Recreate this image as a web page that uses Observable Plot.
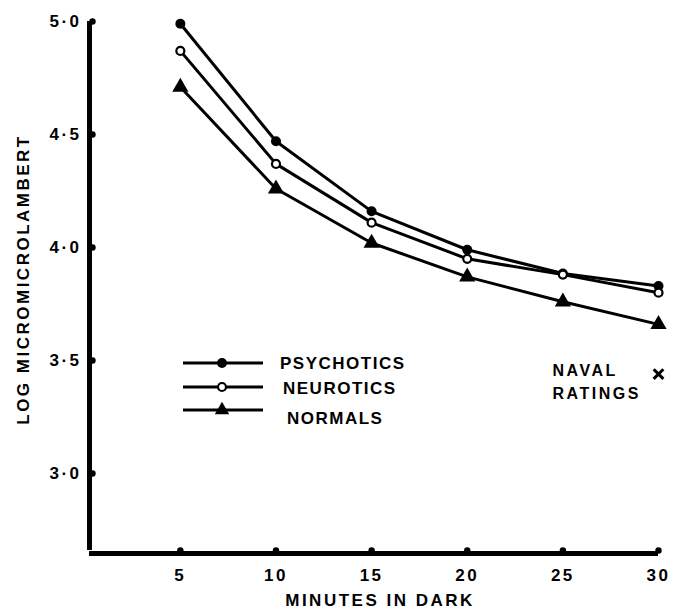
<!DOCTYPE html>
<html><head><meta charset="utf-8">
<script src="https://cdn.jsdelivr.net/npm/d3@7"></script>
<script src="https://cdn.jsdelivr.net/npm/@observablehq/plot@0.6"></script>
<style>
body{margin:0;background:#fff}
#chart svg{display:block}
</style>
</head><body><div id="chart"></div>
<script>
const minutes = [5, 10, 15, 20, 25, 30];
const psychotics = [4.99, 4.47, 4.16, 3.99, 3.885, 3.83];
const neurotics = [4.87, 4.37, 4.11, 3.95, 3.88, 3.80];
const normals = [4.71, 4.26, 4.02, 3.87, 3.76, 3.66];
const navalMinutes = [30];
const navalValues = [3.44];
const navalLabel = "NAVAL\nRATINGS";
const groupNames = ["PSYCHOTICS", "NEUROTICS", "NORMALS"];
const xTicks = [5, 10, 15, 20, 25, 30];
const yTicks = [3.0, 3.5, 4.0, 4.5, 5.0];
const xTitle = "MINUTES IN DARK";
const yTitle = "LOG MICROMICROLAMBERT";

const xMin = 0.25, xMax = 30, yMin = 2.646, yMax = 5.0;

const series = [psychotics, neurotics, normals];
const rows = [];
series.forEach((vals, gi) => vals.forEach((v, i) => rows.push({group: groupNames[gi], minutes: minutes[i], value: v})));
const naval = navalMinutes.map((m, i) => ({minutes: m, value: navalValues[i], label: navalLabel}));

const font = "'Liberation Sans', Arial, sans-serif";

const plot = Plot.plot({
  width: 675,
  height: 616,
  marginLeft: 89,
  marginRight: 17,
  marginTop: 21,
  marginBottom: 63,
  style: {fontFamily: font, fontSize: "17px", fontWeight: "bold", color: "#000", background: "#fff"},
  x: {domain: [xMin, xMax]},
  y: {domain: [yMin, yMax]},
  marks: [
    Plot.axisX({ticks: xTicks, tickSize: 0, tickPadding: 15, label: null, tickFormat: d => String(d), fontSize: 17}),
    Plot.axisY({ticks: yTicks, tickSize: 0, tickPadding: 8, label: null, tickFormat: d => d.toFixed(1).replace(".", "·"), fontSize: 17}),
    Plot.ruleX([xMin], {stroke: "#000", strokeWidth: 5, y1: yMin, y2: yMax, insetTop: -3}),
    Plot.ruleY([yMin], {stroke: "#000", strokeWidth: 5, x1: xMin, x2: xMax}),
    Plot.dot(yTicks, {x: () => xMin, y: d => d, r: 3.2, fill: "#000", dx: 3}),
    Plot.dot(xTicks, {x: d => d, y: () => yMin, r: 3.2, fill: "#000", dy: -3}),
    Plot.line(rows, {x: "minutes", y: "value", z: "group", stroke: "#000", strokeWidth: 3}),
    Plot.dot(rows.filter(d => d.group === "PSYCHOTICS"), {x: "minutes", y: "value", r: 5, fill: "#000"}),
    Plot.dot(rows.filter(d => d.group === "NEUROTICS"), {x: "minutes", y: "value", r: 4, fill: "#fff", stroke: "#000", strokeWidth: 2.2}),
    Plot.dot(rows.filter(d => d.group === "NORMALS"), {x: "minutes", y: "value", r: 6, symbol: "triangle", fill: "#000"}),
    Plot.dot(naval, {x: "minutes", y: "value", symbol: "times", r: 4.5, stroke: "#000", strokeWidth: 3}),
    Plot.text(naval, {x: "minutes", y: "value", text: "label", textAnchor: "start", dx: -106, dy: 6, lineHeight: 1.45, fontSize: 16}),
    Plot.text([xTitle], {frameAnchor: "bottom", text: d => d, dx: 6, dy: 52, fontSize: 17}),
    Plot.text([yTitle], {frameAnchor: "left", textAnchor: "middle", text: d => d, rotate: -90, dx: -66, dy: -8, fontSize: 17})
  ]
});

const svg = d3.select(plot);
svg.selectAll("text").style("letter-spacing", "2.5px");

// legend (layout overlay)
const legendRows = [
  {name: groupNames[0], ly: 363, tx: 280, ty: 363, kind: "filled"},
  {name: groupNames[1], ly: 387, tx: 283, ty: 388, kind: "open"},
  {name: groupNames[2], ly: 410, tx: 287, ty: 418, kind: "triangle"}
];
const lg = svg.append("g").attr("class", "legend");
legendRows.forEach(r => {
  lg.append("line").attr("x1", 183).attr("x2", 263).attr("y1", r.ly).attr("y2", r.ly)
    .attr("stroke", "#000").attr("stroke-width", 3);
  if (r.kind === "filled") lg.append("circle").attr("cx", 222).attr("cy", r.ly).attr("r", 5).attr("fill", "#000");
  if (r.kind === "open") lg.append("circle").attr("cx", 222).attr("cy", r.ly).attr("r", 4).attr("fill", "#fff").attr("stroke", "#000").attr("stroke-width", 2.2);
  if (r.kind === "triangle") lg.append("path").attr("d", d3.symbol(d3.symbolTriangle, 90)()).attr("transform", `translate(222,${r.ly})`).attr("fill", "#000");
  lg.append("text").attr("x", r.tx).attr("y", r.ty).attr("dy", "0.35em")
    .attr("text-anchor", "start")
    .attr("font-family", font).attr("font-size", 17).attr("font-weight", "bold")
    .style("letter-spacing", "1.5px").text(r.name);
});

document.getElementById("chart").append(plot);
</script>
</body></html>
